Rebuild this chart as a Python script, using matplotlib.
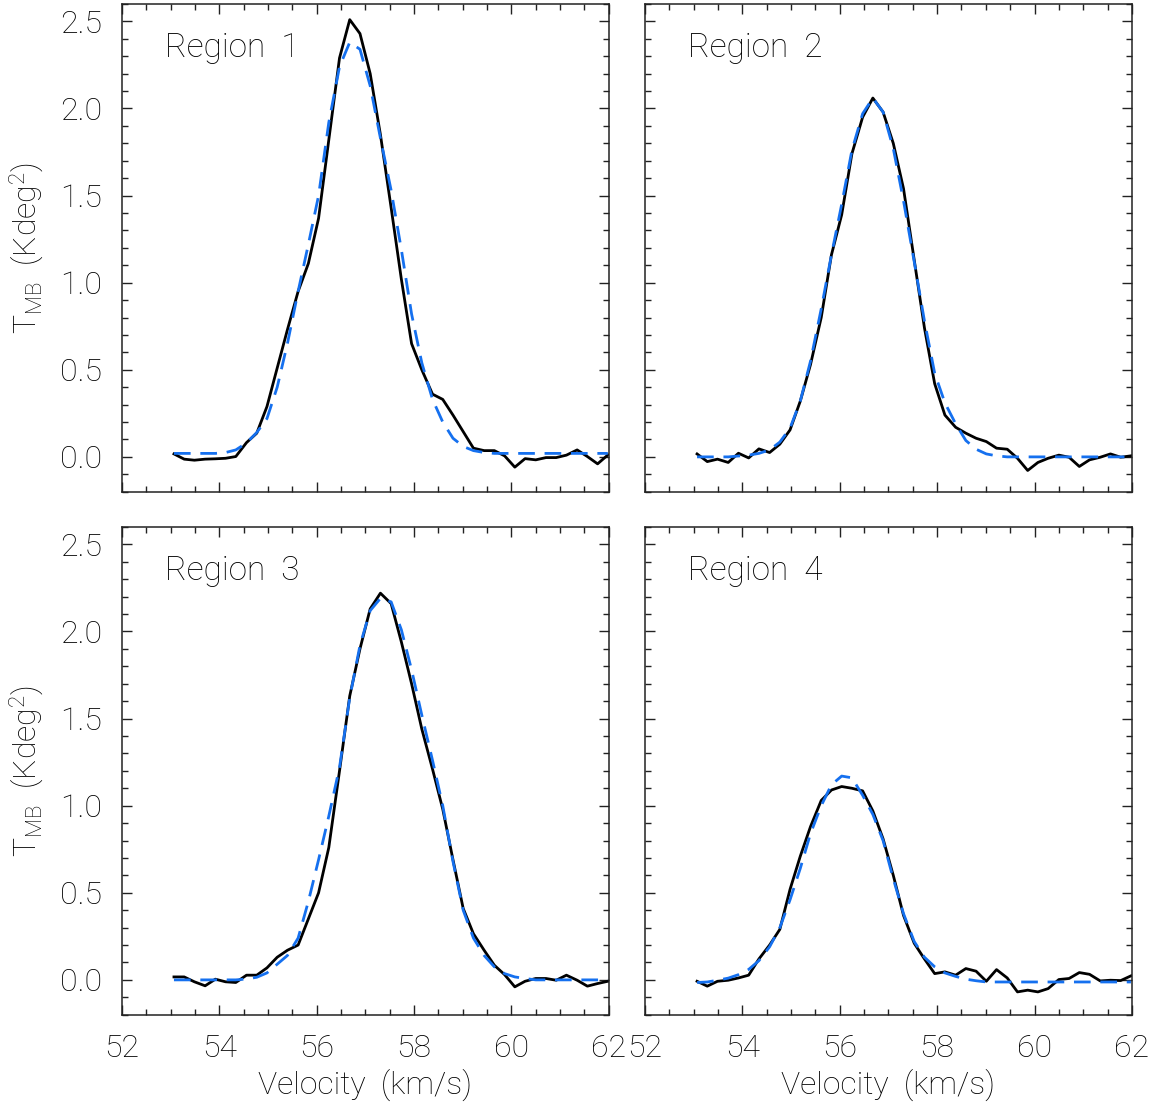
"""四个区域的谱线：观测谱（黑色实线）和高斯拟合（蓝色虚线）。"""
import matplotlib
matplotlib.use("Agg")  # 无头模式
import matplotlib.pyplot as plt
from matplotlib.ticker import MultipleLocator, FormatStrFormatter

plt.rcParams["font.family"] = ["Roboto", "Lato", "DejaVu Sans"]
plt.rcParams["font.weight"] = "light"
plt.rcParams["axes.labelweight"] = "light"  # 轴标签默认是 normal，要单独改
plt.rcParams["mathtext.default"] = "regular"

# 速度通道 (km/s)
velocity = [53.07, 53.28, 53.49, 53.71, 53.92, 54.13, 54.34, 54.56, 54.77, 54.98,
            55.19, 55.40, 55.62, 55.83, 56.04, 56.25, 56.47, 56.68, 56.89, 57.10,
            57.31, 57.53, 57.74, 57.95, 58.16, 58.38, 58.59, 58.80, 59.01, 59.22,
            59.44, 59.65, 59.86, 60.07, 60.28, 60.50, 60.71, 60.92, 61.13, 61.35,
            61.56, 61.77, 61.98]

region1_obs = [0.017, -0.013, -0.019, -0.013, -0.011, -0.008, 0.002, 0.082, 0.136, 0.289,
               0.51, 0.73, 0.95, 1.11, 1.37, 1.82, 2.29, 2.51, 2.43, 2.20,
               1.85, 1.43, 1.02, 0.65, 0.50, 0.36, 0.33, 0.24, 0.145, 0.05,
               0.036, 0.036, 0.006, -0.059, -0.010, -0.017, -0.004, -0.004, 0.010, 0.040,
               0.002, -0.040, 0.011]
region1_fit = [0.02, 0.02, 0.02, 0.02, 0.02, 0.025, 0.04, 0.08, 0.14, 0.22,
               0.40, 0.65, 0.95, 1.22, 1.50, 1.92, 2.24, 2.38, 2.34, 2.13,
               1.83, 1.53, 1.19, 0.82, 0.54, 0.33, 0.20, 0.107, 0.06, 0.036,
               0.025, 0.02, 0.02, 0.02, 0.02, 0.02, 0.02, 0.02, 0.02, 0.02,
               0.02, 0.02, 0.02]

region2_obs = [0.017, -0.027, -0.013, -0.032, 0.021, -0.006, 0.046, 0.025, 0.073, 0.155,
               0.32, 0.53, 0.80, 1.16, 1.39, 1.74, 1.95, 2.06, 1.98, 1.80,
               1.54, 1.13, 0.74, 0.42, 0.24, 0.17, 0.136, 0.107, 0.088, 0.05,
               0.044, -0.008, -0.078, -0.032, -0.008, 0.010, -0.002, -0.055, -0.017, -0.002,
               0.017, -0.002, 0.006]
region2_fit = [0.0, 0.0, 0.0, 0.0, 0.005, 0.01, 0.02, 0.04, 0.085, 0.165,
               0.32, 0.55, 0.85, 1.16, 1.45, 1.76, 1.97, 2.06, 1.98, 1.77,
               1.47, 1.12, 0.78, 0.48, 0.31, 0.19, 0.094, 0.044, 0.017, 0.006,
               0.0, 0.0, 0.0, 0.0, 0.0, 0.0, 0.0, 0.0, 0.0, 0.0,
               0.0, 0.0, 0.0]

region3_obs = [0.017, 0.017, -0.011, -0.034, 0.004, -0.011, -0.015, 0.027, 0.027, 0.069,
               0.13, 0.17, 0.20, 0.35, 0.50, 0.76, 1.20, 1.63, 1.90, 2.13,
               2.22, 2.16, 1.94, 1.70, 1.44, 1.21, 0.98, 0.69, 0.41, 0.265,
               0.17, 0.084, 0.03, -0.04, -0.008, 0.008, 0.008, -0.002, 0.027, -0.002,
               -0.036, -0.021, -0.008]
region3_fit = [0.0, 0.0, 0.0, 0.0, 0.0, 0.0, 0.0, 0.005, 0.015, 0.04,
               0.09, 0.14, 0.24, 0.45, 0.69, 0.94, 1.22, 1.62, 1.92, 2.12,
               2.19, 2.17, 2.01, 1.78, 1.52, 1.26, 1.00, 0.68, 0.40, 0.24,
               0.14, 0.075, 0.036, 0.017, 0.008, 0.0, 0.0, 0.0, 0.0, 0.0,
               0.0, 0.0, 0.0]

region4_obs = [-0.008, -0.036, -0.008, -0.002, 0.011, 0.027, 0.12, 0.20, 0.29, 0.52,
               0.71, 0.88, 1.03, 1.09, 1.11, 1.10, 1.085, 0.97, 0.81, 0.60,
               0.37, 0.21, 0.12, 0.036, 0.046, 0.027, 0.065, 0.05, -0.008, 0.059,
               0.011, -0.069, -0.059, -0.069, -0.05, 0.002, 0.008, 0.042, 0.032, -0.006,
               -0.002, -0.004, 0.023]
region4_fit = [-0.015, -0.012, -0.002, 0.01, 0.03, 0.06, 0.11, 0.19, 0.30, 0.46,
               0.64, 0.84, 1.00, 1.12, 1.17, 1.16, 1.06, 0.95, 0.80, 0.58,
               0.38, 0.22, 0.13, 0.075, 0.04, 0.02, 0.004, -0.005, -0.012, -0.012,
               -0.012, -0.012, -0.012, -0.012, -0.012, -0.012, -0.012, -0.012, -0.012, -0.012,
               -0.012, -0.012, -0.012]

region_names = ["Region  1", "Region  2", "Region  3", "Region  4"]
observed = [region1_obs, region2_obs, region3_obs, region4_obs]
fitted = [region1_fit, region2_fit, region3_fit, region4_fit]

FIT_COLOR = "#1570ef"
AXIS_COLOR = "#222222"

fig = plt.figure(figsize=(11.55, 11.05), dpi=100)

# 2x2 面板位置（figure 坐标）
panel_w, panel_h = 0.4216, 0.4414
lefts = [0.1055, 0.5584, 0.1055, 0.5584]
bottoms = [0.555, 0.555, 0.0817, 0.0817]

for i in range(4):
    ax = fig.add_axes([lefts[i], bottoms[i], panel_w, panel_h])
    ax.plot(velocity, observed[i], color="black", lw=2.0)
    ax.plot(velocity, fitted[i], color=FIT_COLOR, lw=2.0, dashes=(6, 3.5))

    ax.set_xlim(52, 62)
    ax.set_ylim(-0.2, 2.6)
    ax.xaxis.set_major_locator(MultipleLocator(2))
    ax.xaxis.set_minor_locator(MultipleLocator(0.5))
    ax.yaxis.set_major_locator(MultipleLocator(0.5))
    ax.yaxis.set_minor_locator(MultipleLocator(0.1))
    ax.yaxis.set_major_formatter(FormatStrFormatter("%.1f"))

    for sp in ax.spines.values():
        sp.set_color(AXIS_COLOR)
        sp.set_linewidth(1.1)
    ax.tick_params(which="both", direction="in", top=True, right=True,
                   color=AXIS_COLOR, width=1.0, labelsize=23, pad=14)
    ax.tick_params(which="major", length=7)
    ax.tick_params(which="minor", length=4)

    bottom_row = i >= 2
    left_col = i % 2 == 0
    ax.tick_params(labelbottom=bottom_row, labelleft=left_col)
    if bottom_row:
        ax.set_xlabel("Velocity  (km/s)", fontsize=23, labelpad=4)
    if left_col:
        ax.set_ylabel("T$_{MB}$  (Kdeg$^{2}$)", fontsize=23, labelpad=10)

    ax.text(0.088, 0.91, region_names[i], transform=ax.transAxes,
            fontsize=24, va="center", ha="left")

fig.savefig("out.png", dpi=100)
